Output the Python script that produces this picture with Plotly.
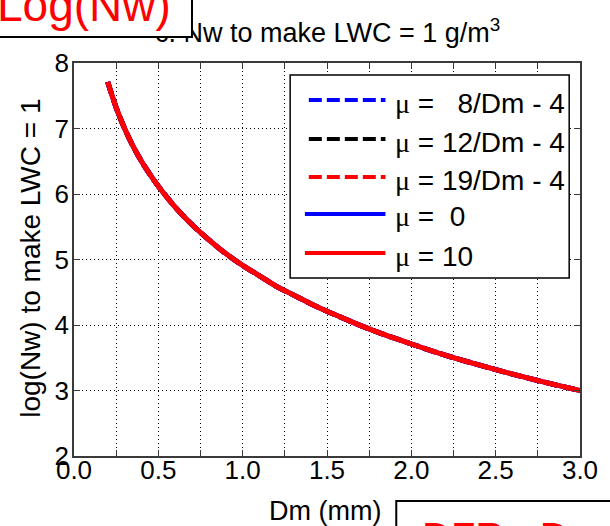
import plotly.graph_objects as go

# Mass-weighted mean diameter (mm) and the log10 of the normalized intercept
# Nw needed for a liquid water content of 1 g/m^3.
dm_mm = [0.2, 0.25, 0.3, 0.35, 0.4, 0.45, 0.5, 0.6, 0.7, 0.8, 0.9, 1.0,
         1.1, 1.2, 1.3, 1.4, 1.5, 1.6, 1.7, 1.8, 1.9, 2.0, 2.2, 2.4, 2.6,
         2.8, 3.0]
log_nw = [7.71, 7.32, 7.00, 6.73, 6.50, 6.30, 6.12, 5.80, 5.53, 5.30, 5.09,
          4.91, 4.75, 4.59, 4.46, 4.33, 4.21, 4.10, 3.99, 3.89, 3.80, 3.71,
          3.54, 3.39, 3.25, 3.12, 3.00]

# The five shape-parameter assumptions give the same Nw curve.
series_labels = ["μ =\u00a0\u00a0\u00a08/Dm - 4", "μ = 12/Dm - 4",
                 "μ = 19/Dm - 4", "μ =\u00a0\u00a00", "μ = 10"]
series_values = [log_nw, log_nw, log_nw, log_nw, log_nw]

x_tick_vals = [0.0, 0.5, 1.0, 1.5, 2.0, 2.5, 3.0]
x_tick_text = ["0.0", "0.5", "1.0", "1.5", "2.0", "2.5", "3.0"]
y_tick_vals = [2, 3, 4, 5, 6, 7, 8]

title_text = "c. Nw to make LWC = 1 g/m<sup>3</sup>"
x_title = "Dm (mm)"
y_title = "log(Nw) to make LWC = 1"
top_tag = "Log(Nw)"
bottom_tag = "DFR - Dm"

# ---- styling ----
colors = ["#0000ff", "#000000", "#ff0000", "#0000ff", "#ff0000"]
dashes = ["13px,5px", "13px,5px", "13px,5px", "solid", "solid"]
SANS = "Liberation Sans, Arial, sans-serif"
SERIF = "Liberation Serif"
W, H = 610, 526
L, R, T, B = 74, 589, 63, 456   # plot area in pixels


def px(x):
    return (x - L) / (R - L)


def py(y):
    return (B - y) / (B - T)


fig = go.Figure()
for vals, c, d in zip(series_values, colors, dashes):
    fig.add_trace(go.Scatter(
        x=dm_mm, y=vals, mode="lines", showlegend=False,
        line=dict(color=c, width=5, dash=d, shape="spline"),
    ))

grid = dict(showgrid=True, gridcolor="#000000", gridwidth=1, griddash="1px,3px")
axis_common = dict(
    showline=True, linecolor="#3a3a3a", linewidth=1.5, mirror="ticks",
    ticks="inside", ticklen=6, tickcolor="#3a3a3a", tickwidth=1,
    tickfont=dict(family=SANS, size=26, color="#000"), zeroline=False,
    **grid,
)
fig.update_xaxes(range=[0, 3], tickvals=x_tick_vals, ticktext=x_tick_text,
                 ticklabelstandoff=-10,
                 minor=dict(dtick=0.25, tick0=0, ticks="inside", ticklen=6,
                            tickcolor="#3a3a3a", **grid),
                 **axis_common)
fig.update_yaxes(range=[2, 8], tickvals=y_tick_vals, ticklabelstandoff=-2,
                 **axis_common)

annotations = []
shapes = []

# title
annotations.append(dict(xref="paper", yref="paper", x=0.5, y=py(31),
                        xanchor="center", yanchor="middle", showarrow=False,
                        text=title_text,
                        font=dict(family=SANS, size=27, color="#000")))
# boxed tag top-left: white frame drawn after the title so it covers it,
# then the red label on top of the frame
annotations.append(dict(xref="paper", yref="paper", x=px(-6), y=py(38),
                        xanchor="left", yanchor="bottom", showarrow=False,
                        width=194, height=60, text="\u00a0",
                        bgcolor="#ffffff", bordercolor="#000000",
                        borderwidth=2, borderpad=0,
                        font=dict(family=SANS, size=10, color="#ffffff")))
annotations.append(dict(xref="paper", yref="paper", x=px(-6), y=py(33),
                        xanchor="left", yanchor="bottom", showarrow=False,
                        text=top_tag,
                        font=dict(family=SANS, size=46, color="#ff0000")))
# axis titles
annotations.append(dict(xref="paper", yref="paper", x=px(329), y=py(511),
                        xanchor="center", yanchor="middle", showarrow=False,
                        text=x_title, font=dict(family=SANS, size=27, color="#000")))
annotations.append(dict(xref="paper", yref="paper", x=px(29), y=py(258),
                        xanchor="center", yanchor="middle", showarrow=False,
                        textangle=-90, text=y_title,
                        font=dict(family=SANS, size=28, color="#000")))
# boxed tag bottom-right
shapes.append(dict(type="rect", xref="paper", yref="paper", layer="above",
                   x0=px(402), x1=px(640), y0=py(501), y1=py(560),
                   fillcolor="#ffffff", line=dict(color="#000000", width=2)))
annotations.append(dict(xref="paper", yref="paper", x=px(426), y=py(513),
                        xanchor="left", yanchor="top", showarrow=False,
                        text=bottom_tag,
                        font=dict(family=SANS, size=40, color="#ff0000")))

# legend box
shapes.append(dict(type="rect", xref="paper", yref="paper", layer="above",
                   x0=px(294), x1=px(578), y0=py(278), y1=py(75),
                   fillcolor="#ffffff", line=dict(color="#000000", width=1.5)))
row_y = [100, 139, 177, 214, 253]
for lab, c, d, yy in zip(series_labels, colors, dashes, row_y):
    x0 = 313 if d != "solid" else 309
    shapes.append(dict(type="line", xref="paper", yref="paper", layer="above",
                       x0=px(x0), x1=px(391), y0=py(yy), y1=py(yy),
                       line=dict(color=c, width=4, dash=d)))
    rest = lab.split(" ", 1)[1]
    annotations.append(dict(
        xref="paper", yref="paper", x=px(399), y=py(yy + 3),
        xanchor="left", yanchor="middle", showarrow=False, align="left",
        text=f"<span style='font-family:{SERIF}'>μ</span> {rest}",
        font=dict(family=SANS, size=28, color="#000")))

fig.update_layout(
    width=W, height=H, margin=dict(l=L, r=W - R, t=T, b=H - B),
    paper_bgcolor="#ffffff", plot_bgcolor="#ffffff",
    annotations=annotations, shapes=shapes,
)
fig.write_html("out.html")
